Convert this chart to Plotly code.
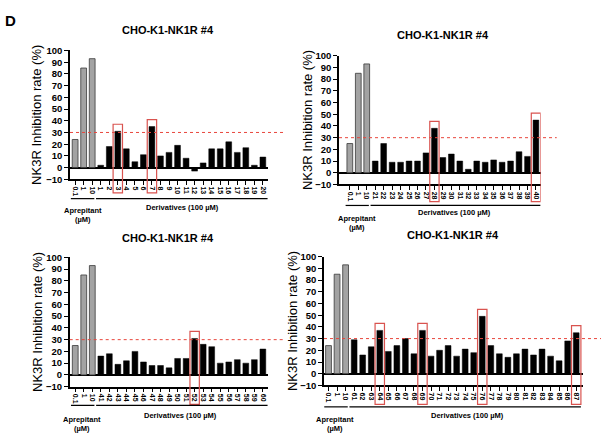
import plotly.graph_objects as go

# ---------------- data ----------------
apr_labels = ["0.1", "1", "10"]
apr_p1 = [24, 85, 93]
apr_p2 = [25, 85, 93]
apr_p3 = [25, 85, 93]
apr_p4 = [24, 85, 93]

der_labels_p1 = [str(i) for i in range(1, 21)]
der_vals_p1 = [2, 18, 31, 16, 5, 11, 35, 10, 13, 19, 8, -3, 4, 16, 16, 22, 13, 17, 2, 9]
hl_p1 = ["3", "7"]

der_labels_p2 = [str(i) for i in range(21, 41)]
der_vals_p2 = [10, 25, 9, 9, 10, 10, 17, 38, 13, 16, 10, 3, 10, 9, 11, 9, 10, 18, 14, 45]
hl_p2 = ["28", "40"]

der_labels_p3 = [str(i) for i in range(41, 61)]
der_vals_p3 = [16, 18, 9, 12, 20, 11, 8, 8, 6, 14, 14, 31, 26, 24, 10, 11, 13, 10, 13, 22]
hl_p3 = ["52"]

der_labels_p4 = [str(i) for i in range(61, 88)]
der_vals_p4 = [29, 16, 23, 37, 19, 24, 30, 17, 37, 15, 20, 24, 15, 21, 18, 49, 24, 17, 14, 17,
               21, 16, 21, 15, 11, 28, 35]
hl_p4 = ["64", "69", "76", "87"]

threshold = 30
title_text = "CHO-K1-NK1R #4"
ytitle = "NK3R Inhibition rate (%)"

# ---------------- layout geometry (pixels) ----------------
W, H = 601, 446


def px(x):
    return x / W


def py(y):
    return 1 - y / H


panels = [
    dict(apr=apr_p1, dl=der_labels_p1, dv=der_vals_p1, hl=hl_p1,
         xd=(70, 268), yd=(45.6, 177.7), xr=(-0.6, 22.6),
         title=(168, 25), ytx=37, box_bot=191.5, gline=197.5,
         apr_txt=(83, 210), der_txt=(182, 207)),
    dict(apr=apr_p2, dl=der_labels_p2, dv=der_vals_p2, hl=hl_p2,
         xd=(339, 540.6), yd=(51, 183), xr=(-1.28, 22.55),
         title=(443, 30), ytx=307, box_bot=200.5, gline=204.5,
         apr_txt=(357, 218), der_txt=(454, 212)),
    dict(apr=apr_p3, dl=der_labels_p3, dv=der_vals_p3, hl=hl_p3,
         xd=(69.7, 268), yd=(257.7, 390.3), xr=(-0.65, 22.6),
         title=(168, 238), ytx=37, box_bot=408.5, gline=409.5,
         apr_txt=(82, 424), der_txt=(180, 420)),
    dict(apr=apr_p4, dl=der_labels_p4, dv=der_vals_p4, hl=hl_p4,
         xd=(324, 583.3), yd=(257, 389), xr=(-0.53, 29.83),
         title=(453, 235), ytx=292, box_bot=408.5, gline=411,
         apr_txt=(335, 424), der_txt=(467, 420)),
]

FONT = "Liberation Sans, Arial, sans-serif"
fig = go.Figure()
shapes = []
annotations = []
layout = {}

annotations.append(dict(x=px(10), y=py(15), xref="paper", yref="paper", text="<b>D</b>",
                        showarrow=False, font=dict(size=15, family=FONT, color="black"),
                        xanchor="center", yanchor="middle"))

for i, p in enumerate(panels):
    n = i + 1
    xa = "x" if n == 1 else f"x{n}"
    ya = "y" if n == 1 else f"y{n}"
    xkey = "xaxis" if n == 1 else f"xaxis{n}"
    ykey = "yaxis" if n == 1 else f"yaxis{n}"

    labels = apr_labels + p["dl"]
    napr = len(apr_labels)
    xs_apr = list(range(napr))
    xs_der = list(range(napr, napr + len(p["dl"])))

    fig.add_trace(go.Bar(x=xs_apr, y=p["apr"], xaxis=xa, yaxis=ya, width=0.68,
                         marker=dict(color="#a3a3a3", line=dict(color="#3a3a3a", width=0.8)),
                         showlegend=False, hoverinfo="y"))
    fig.add_trace(go.Bar(x=xs_der, y=p["dv"], xaxis=xa, yaxis=ya, width=0.68,
                         marker=dict(color="black", line=dict(color="black", width=0.5)),
                         showlegend=False, hoverinfo="y"))

    y0d, y1d = p["yd"]
    layout[xkey] = dict(domain=[px(p["xd"][0]), px(p["xd"][1])], anchor=ya,
                        range=list(p["xr"]), tickmode="array",
                        tickvals=list(range(len(labels))), ticktext=labels,
                        tickangle=90, ticks="outside", ticklen=4, tickwidth=1.2,
                        tickcolor="black", showline=True, linecolor="black", linewidth=1.5,
                        showgrid=False, zeroline=False,
                        tickfont=dict(size=7, family=FONT, color="black", weight="bold"))
    layout[ykey] = dict(domain=[py(y1d), py(y0d)], anchor=xa, range=[-10, 100],
                        tickmode="array", tickvals=list(range(-10, 101, 10)),
                        ticks="outside", ticklen=4, tickwidth=1.2, tickcolor="black",
                        showline=True, linecolor="black", linewidth=1.5,
                        showgrid=False, zeroline=True, zerolinecolor="black",
                        zerolinewidth=1.5,
                        tickfont=dict(size=9.5, family=FONT, color="black", weight="bold"))

    # threshold dashed line
    shapes.append(dict(type="line", xref=f"{xa} domain", yref=ya, x0=0, x1=1.08,
                       y0=threshold, y1=threshold,
                       line=dict(color="#e8463c", width=1, dash="dot")))

    # highlight boxes
    dom_h = y1d - y0d
    for lab in p["hl"]:
        idx = labels.index(lab, napr)
        val = p["dv"][idx - napr]
        top_px = y1d - (val + 6 + 10) / 110 * dom_h
        shapes.append(dict(type="rect", xref=xa, yref="paper", x0=idx - 0.55, x1=idx + 0.55,
                           y0=py(p["box_bot"]), y1=py(top_px),
                           line=dict(color="#d9534f", width=1.2), fillcolor="rgba(0,0,0,0)"))

    # group underlines
    shapes.append(dict(type="line", xref=xa, yref="paper", x0=-0.5, x1=napr - 0.75,
                       y0=py(p["gline"]), y1=py(p["gline"]),
                       line=dict(color="black", width=1.2)))
    shapes.append(dict(type="line", xref=xa, yref="paper", x0=napr - 0.55,
                       x1=len(labels) - 0.45,
                       y0=py(p["gline"]), y1=py(p["gline"]),
                       line=dict(color="black", width=1.2)))

    # texts
    annotations.append(dict(x=px(p["title"][0]), y=py(p["title"][1]), xref="paper", yref="paper",
                            text=f"<b>{title_text}</b>", showarrow=False,
                            font=dict(size=11, family=FONT, color="black"),
                            xanchor="center", yanchor="middle"))
    annotations.append(dict(x=px(p["ytx"]), y=py((y0d + y1d) / 2 + 0), xref="paper", yref="paper",
                            text=ytitle, textangle=-90, showarrow=False,
                            font=dict(size=13, family=FONT, color="black"),
                            xanchor="center", yanchor="middle"))
    annotations.append(dict(x=px(p["apr_txt"][0]), y=py(p["apr_txt"][1]), xref="paper", yref="paper",
                            text="<b>Aprepitant</b>", showarrow=False,
                            font=dict(size=7.5, family=FONT, color="black"),
                            xanchor="center", yanchor="middle"))
    annotations.append(dict(x=px(p["apr_txt"][0]), y=py(p["apr_txt"][1] + 9), xref="paper", yref="paper",
                            text="<b>(µM)</b>", showarrow=False,
                            font=dict(size=7.5, family=FONT, color="black"),
                            xanchor="center", yanchor="middle"))
    annotations.append(dict(x=px(p["der_txt"][0]), y=py(p["der_txt"][1]), xref="paper", yref="paper",
                            text="<b>Derivatives (100 µM)</b>", showarrow=False,
                            font=dict(size=7.5, family=FONT, color="black"),
                            xanchor="center", yanchor="middle"))

fig.update_layout(width=W, height=H, margin=dict(l=0, r=0, t=0, b=0),
                  paper_bgcolor="white", plot_bgcolor="white",
                  shapes=shapes, annotations=annotations, barmode="overlay",
                  font=dict(family=FONT), **layout)

fig.write_html("out.html", config={"displayModeBar": False},
               post_script="document.body.style.margin='0';document.body.style.overflow='hidden';")
